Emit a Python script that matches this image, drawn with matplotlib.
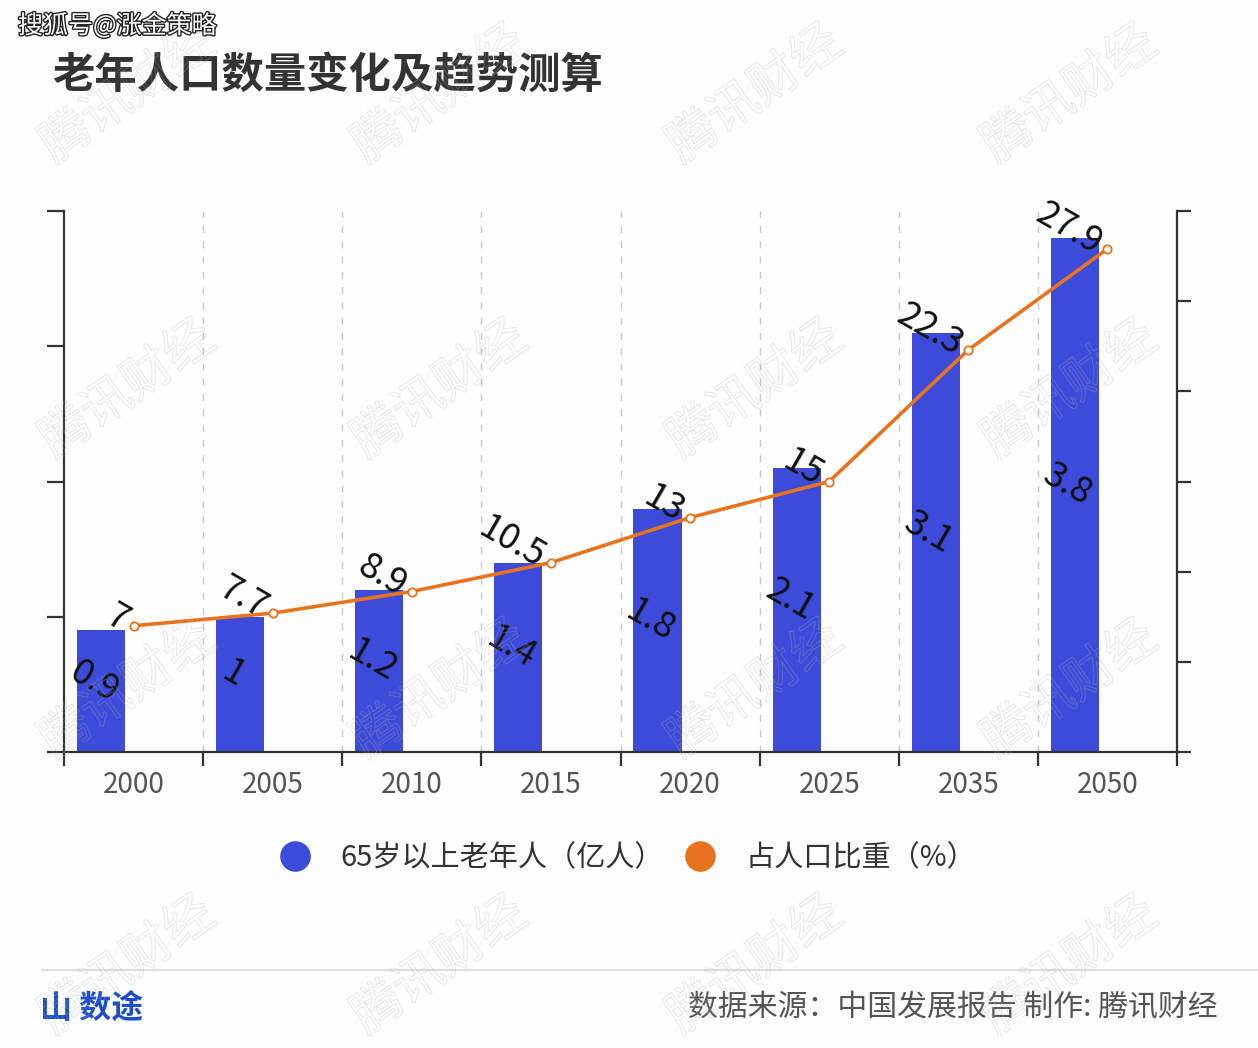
import matplotlib
matplotlib.use("Agg")
import matplotlib.pyplot as plt
import matplotlib.patheffects as pe
from matplotlib.lines import Line2D
import numpy as np

plt.rcParams['font.family'] = ['Noto Sans CJK SC', 'DejaVu Sans']

years = ['2000', '2005', '2010', '2015', '2020', '2025', '2035', '2050']
elderly = [0.9, 1, 1.2, 1.4, 1.8, 2.1, 3.1, 3.8]          # 亿人
share = [7, 7.7, 8.9, 10.5, 13, 15, 22.3, 27.9]          # %
elderly_txt = ['0.9', '1', '1.2', '1.4', '1.8', '2.1', '3.1', '3.8']
share_txt = ['7', '7.7', '8.9', '10.5', '13', '15', '22.3', '27.9']

BLUE = '#3c4bd9'
ORANGE = '#e8731e'
BG = '#fdfdfe'
W, H = 1258, 1048

fig = plt.figure(figsize=(W / 100, H / 100), dpi=100)
fig.patch.set_facecolor(BG)

# axes box in pixels: x 64..1177, y 211..752
ax = fig.add_axes([64 / W, 1 - 752 / H, (1177 - 64) / W, (752 - 211) / H])
ax.set_facecolor('none')
ax2 = ax.twinx()

x = np.arange(len(years))
bar_shift = -0.234   # bars sit left of the category centre, as in the source
ax.bar(x + bar_shift, elderly, width=0.346, color=BLUE, zorder=2)
ax.set_xlim(-0.5, len(years) - 0.5)
ax.set_ylim(0, 4)
ax.set_yticks(np.arange(0, 5, 1))
ax.set_yticklabels([])

ax2.plot(x, share, color=ORANGE, lw=2.6, marker='o', ms=6,
         mfc='white', mec=ORANGE, mew=1.3, zorder=3)
ax2.set_ylim(0, 30)
ax2.set_yticks(np.arange(0, 31, 5))
ax2.set_yticklabels([])

# category boundary ticks and dashed grid
bounds = np.arange(-0.5, len(years), 1)
ax.set_xticks(bounds)
ax.set_xticklabels([])
ax.set_xticks(x, minor=True)
ax.set_xticklabels(years, minor=True, fontsize=20, color='#555555')
ax.tick_params(axis='x', which='minor', length=0, pad=13)
ax.tick_params(axis='x', which='major', length=10, width=1.6, color='#333333')
for b in bounds[1:-1]:
    ax.axvline(b, color='#c8c8c8', lw=1, ls=(0, (5, 6)), zorder=1)

ax.tick_params(axis='y', length=12, width=1.6, color='#333333')
ax2.tick_params(axis='y', length=10, width=1.6, color='#333333')
for a in (ax, ax2):
    a.spines['top'].set_visible(False)
    for s in ('left', 'right', 'bottom'):
        a.spines[s].set_color('#333333')
        a.spines[s].set_linewidth(1.6)
ax.spines['right'].set_visible(False)
ax2.spines['left'].set_visible(False)
ax2.spines['bottom'].set_visible(False)

# rotated data labels
for i, (v, t) in enumerate(zip(elderly, elderly_txt)):
    ax.annotate(t, (i + bar_shift, v / 2), xytext=(-5, 7), textcoords='offset points',
                ha='center', va='center', rotation=-30, fontsize=26,
                color='#111111', zorder=5)
for i, (v, t) in enumerate(zip(share, share_txt)):
    ax2.annotate(t, (i, v), xytext=(-6, 2), textcoords='offset points',
                 ha='right', va='center', rotation=-30, rotation_mode='anchor',
                 fontsize=26, color='#111111', zorder=5)

# title and header
fig.text(18 / W, 1 - 26 / H, '搜狐号@涨金策略', fontsize=18, color='white',
         ha='left', va='center',
         path_effects=[pe.withStroke(linewidth=2, foreground='#222222')])
fig.text(52 / W, 1 - 76 / H, '老年人口数量变化及趋势测算', fontsize=30.5,
         fontweight='bold', color='#333333', ha='left', va='center')

# legend
handles = [Line2D([], [], ls='none', marker='o', ms=21, color=BLUE),
           Line2D([], [], ls='none', marker='o', ms=21, color=ORANGE)]
fig.legend(handles, ['65岁以上老年人（亿人）', '占人口比重（%）'], loc='center',
           bbox_to_anchor=(621 / W, 1 - 858 / H), ncol=2, frameon=False,
           fontsize=21, labelcolor='#333333', handletextpad=0.55,
           columnspacing=0.26)

# footer
fig.add_artist(Line2D([42 / W, 1], [1 - 970 / H] * 2, color='#dddddd', lw=1.5))
fig.text(40 / W, 1 - 1010 / H, '山 数途', fontsize=23, fontweight='bold',
         color='#1f4fc8', ha='left', va='center')
fig.text(1218 / W, 1 - 1008 / H, '数据来源：中国发展报告 制作: 腾讯财经',
         fontsize=21.5, color='#555555', ha='right', va='center')

# watermarks
for wy in (95, 390, 690, 966):
    for wx in (128, 440, 755, 1070):
        fig.text(wx / W, 1 - wy / H, '腾讯财经', fontsize=36, rotation=35,
                 ha='center', va='center', color=(1, 1, 1, 0), zorder=10,
                 path_effects=[pe.Stroke(linewidth=0.7,
                                         foreground=(0.7, 0.7, 0.7, 0.3))])

fig.savefig('out.png', dpi=100, facecolor=BG)
